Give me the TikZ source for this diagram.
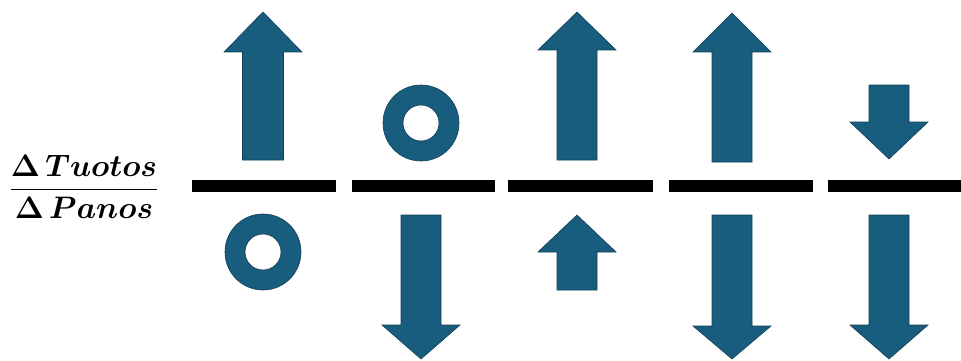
\documentclass[tikz,border=0pt]{standalone}
\usepackage{amsmath,amssymb,bm}
\usepackage{tikz}
\usetikzlibrary{positioning}

\definecolor{arrowblue}{HTML}{185C7E}

\begin{document}
\begin{tikzpicture}[
  x=1pt, y=-1pt,
  blkarrow/.style={fill=arrowblue, draw=arrowblue!70!black, line width=0.6pt, line join=miter},
  ring/.style={blkarrow, even odd rule},
  bar/.style={line width=12pt, black}
]
  \useasboundingbox (0,0) rectangle (961,361);

  % ratio on the left
  \node[inner sep=0pt] (ratio) at (84,187)
    {\scalebox{1.25}{\fontsize{23}{28}\selectfont
     $\dfrac{\boldsymbol{\Delta\,Tuotos}}{\boldsymbol{\Delta\,Panos}}$}};

  % fraction bars
  \coordinate (b1l) at (192,186); \coordinate (b1r) at (336,186);
  \coordinate (b2l) at (352,186); \coordinate (b2r) at (495,186);
  \coordinate (b3l) at (508,186); \coordinate (b3r) at (653,186);
  \coordinate (b4l) at (669,186); \coordinate (b4r) at (813,186);
  \coordinate (b5l) at (828,186); \coordinate (b5r) at (961,186);
  \draw[bar] (b1l) -- (b1r);
  \draw[bar] (b2l) -- (b2r);
  \draw[bar] (b3l) -- (b3r);
  \draw[bar] (b4l) -- (b4r);
  \draw[bar] (b5l) -- (b5r);

  % column 1: up / zero
  \draw[blkarrow] (263,12) -- (302,52) -- (283.5,52) -- (283.5,160)
    -- (242.5,160) -- (242.5,52) -- (224,52) -- cycle;
  \draw[ring] (263,252) circle[radius=38] (263,252) circle[radius=18];

  % column 2: zero / down
  \draw[ring] (421,123) circle[radius=38] (421,123) circle[radius=18];
  \draw[blkarrow] (401,215) -- (441,215) -- (441,325) -- (460,325)
    -- (421,359) -- (382,325) -- (401,325) -- cycle;

  % column 3: big up / small up
  \draw[blkarrow] (577,12) -- (616,50) -- (597,50) -- (597,160)
    -- (557,160) -- (557,50) -- (538,50) -- cycle;
  \draw[blkarrow] (577,215) -- (616,252) -- (597,252) -- (597,290)
    -- (557,290) -- (557,252) -- (538,252) -- cycle;

  % column 4: up / down
  \draw[blkarrow] (732,13) -- (771,52) -- (752,52) -- (752,162)
    -- (712,162) -- (712,52) -- (693,52) -- cycle;
  \draw[blkarrow] (712,215) -- (752,215) -- (752,326) -- (771,326)
    -- (732,359) -- (693,326) -- (712,326) -- cycle;

  % column 5: small down / big down
  \draw[blkarrow] (869,85) -- (909,85) -- (909,122) -- (928,122)
    -- (889,159) -- (850,122) -- (869,122) -- cycle;
  \draw[blkarrow] (869,215) -- (909,215) -- (909,325) -- (928,325)
    -- (889,359) -- (850,325) -- (869,325) -- cycle;
\end{tikzpicture}
\end{document}
